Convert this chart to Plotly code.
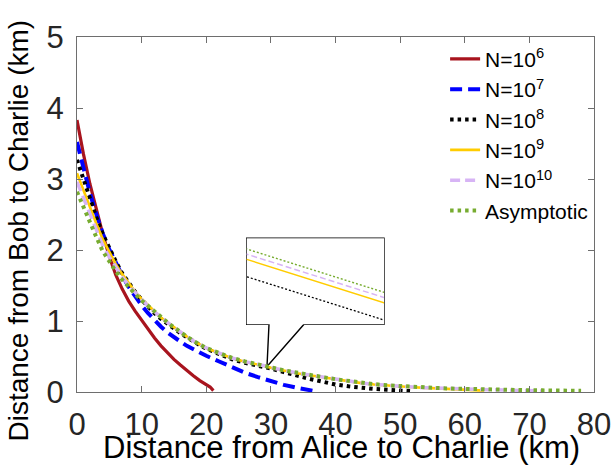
import plotly.graph_objects as go

# ---------------- data ----------------
x_n6 = [0, 1, 2, 3, 4, 5, 6, 7, 8, 9, 10, 11, 12, 13, 14, 15, 16, 17, 18, 19, 20, 20.6, 21.1]
y_n6 = [3.83, 3.35, 2.93, 2.57, 2.22, 1.91, 1.65, 1.45, 1.28, 1.14, 1.01, 0.88, 0.76, 0.65, 0.55, 0.46,
        0.38, 0.30, 0.23, 0.16, 0.10, 0.07, 0.02]

x_n7 = [0, 1, 2, 3, 4, 5, 6, 7, 8, 9, 10, 11, 12, 13, 14, 15, 16, 17, 18, 19, 20, 22, 24, 26, 28, 30,
        32, 34, 36, 37]
y_n7 = [3.52, 3.15, 2.80, 2.50, 2.23, 2.01, 1.82, 1.64, 1.48, 1.34, 1.22, 1.11, 1.01, 0.92, 0.84, 0.77,
        0.71, 0.65, 0.60, 0.55, 0.51, 0.43, 0.35, 0.27, 0.21, 0.15, 0.10, 0.06, 0.03, 0.01]

x_n8 = [0, 1, 2, 3, 4, 5, 6, 7, 8, 9, 10, 11, 12, 13, 14, 15, 16, 17, 18, 19, 20, 22, 24, 26, 28, 29,
        30, 32, 34, 36, 38, 40, 42, 44, 46, 48, 50, 52]
y_n8 = [3.27, 2.99, 2.71, 2.46, 2.22, 2.02, 1.84, 1.67, 1.53, 1.41, 1.30, 1.20, 1.11, 1.03, 0.96, 0.89,
        0.83, 0.77, 0.71, 0.66, 0.61, 0.53, 0.46, 0.41, 0.375, 0.356, 0.331, 0.28, 0.23, 0.185, 0.145,
        0.105, 0.08, 0.058, 0.043, 0.032, 0.022, 0.01]

x_n9 = [0, 1, 2, 3, 4, 5, 6, 7, 8, 9, 10, 11, 12, 13, 14, 15, 16, 17, 18, 19, 20, 22, 24, 26, 28, 29,
        30, 32, 34, 36, 38, 40, 42, 44, 46, 48, 50, 52, 54, 56, 58, 60, 62, 63]
y_n9 = [3.08, 2.84, 2.60, 2.37, 2.15, 1.97, 1.80, 1.66, 1.53, 1.41, 1.31, 1.22, 1.13, 1.05, 0.98, 0.91,
        0.84, 0.78, 0.72, 0.67, 0.62, 0.545, 0.475, 0.425, 0.39, 0.366, 0.341, 0.30, 0.265, 0.235,
        0.205, 0.175, 0.15, 0.125, 0.105, 0.09, 0.077, 0.067, 0.058, 0.05, 0.043, 0.036, 0.03, 0.02]

x_n10 = [0, 1, 2, 3, 4, 5, 6, 7, 8, 9, 10, 11, 12, 13, 14, 15, 16, 17, 18, 19, 20, 22, 24, 26, 28, 29,
         30, 32, 34, 36, 38, 40, 42, 44, 46, 48, 50, 52, 54, 56, 58, 60, 62, 64, 66, 68, 70, 72]
y_n10 = [2.96, 2.73, 2.50, 2.28, 2.06, 1.90, 1.75, 1.62, 1.50, 1.40, 1.30, 1.21, 1.13, 1.05, 0.98, 0.91,
         0.84, 0.78, 0.72, 0.67, 0.62, 0.548, 0.478, 0.428, 0.393, 0.369, 0.344, 0.303, 0.268, 0.238,
         0.208, 0.178, 0.153, 0.128, 0.108, 0.093, 0.08, 0.07, 0.061, 0.053, 0.046, 0.04, 0.035,
         0.031, 0.028, 0.025, 0.022, 0.015]

x_asym = [0, 1, 2, 3, 4, 5, 6, 7, 8, 9, 10, 11, 12, 13, 14, 15, 16, 17, 18, 19, 20, 22, 24, 26, 28, 29,
          30, 32, 34, 36, 38, 40, 42, 44, 46, 48, 50, 52, 54, 56, 58, 60, 62, 64, 66, 68, 70, 72, 74,
          76, 78]
y_asym = [2.82, 2.60, 2.39, 2.18, 1.98, 1.83, 1.70, 1.58, 1.47, 1.38, 1.29, 1.21, 1.13, 1.05, 0.98, 0.91,
          0.84, 0.78, 0.72, 0.67, 0.62, 0.55, 0.48, 0.43, 0.395, 0.372, 0.347, 0.305, 0.27, 0.24, 0.21,
          0.18, 0.155, 0.13, 0.11, 0.095, 0.082, 0.072, 0.063, 0.055, 0.048, 0.042, 0.037, 0.033,
          0.030, 0.027, 0.025, 0.023, 0.021, 0.019, 0.017]

x_ticks = [0, 10, 20, 30, 40, 50, 60, 70, 80]
y_ticks = [0, 1, 2, 3, 4, 5]

names = ["N=10<sup>6</sup>", "N=10<sup>7</sup>", "N=10<sup>8</sup>", "N=10<sup>9</sup>",
         "N=10<sup>10</sup>", "Asymptotic"]

FONT = "Liberation Sans, Arial, sans-serif"
TXT = "#262626"
AX = "#6e6e6e"

series = [
    (x_n6, y_n6, dict(color="#A8141E", width=3.2)),
    (x_n7, y_n7, dict(color="#0000FF", width=4, dash="12px,6px")),
    (x_n8, y_n8, dict(color="#000000", width=4, dash="3.5px,4px")),
    (x_n9, y_n9, dict(color="#FFCC00", width=2.6)),
    (x_n10, y_n10, dict(color="#D7B4F5", width=3.5, dash="10px,5px")),
    (x_asym, y_asym, dict(color="#77AC30", width=4, dash="3.5px,4px")),
]

fig = go.Figure()
for (xs, ys, ln), nm in zip(series, names):
    fig.add_trace(go.Scatter(x=xs, y=ys, mode="lines", name=nm, line=ln,
                             xaxis="x", yaxis="y"))

# inset (zoomed view) traces
inset_styles = {
    2: dict(color="#000000", width=1.3, dash="2px,2px"),
    3: dict(color="#FFCC00", width=1.5),
    4: dict(color="#D7B4F5", width=1.5, dash="6px,3px"),
    5: dict(color="#77AC30", width=1.4, dash="2px,2px"),
}
for idx, ln in inset_styles.items():
    xs, ys, _ = series[idx]
    fig.add_trace(go.Scatter(x=xs, y=ys, mode="lines", line=ln, showlegend=False,
                             xaxis="x2", yaxis="y2", hoverinfo="skip"))

# callout balloon (in main data coordinates)
fig.add_shape(type="path",
              path="M 29.71,0.954 L 26.26,0.954 L 26.26,2.165 L 47.5,2.165 L 47.5,0.954 "
                   "L 35.13,0.954 L 29.4,0.36 Z",
              xref="x", yref="y", line=dict(color="#000000", width=1.4),
              fillcolor="rgba(255,255,255,0)", layer="below")

# axis titles as annotations
fig.add_annotation(text="Distance from Bob to Charlie (km)", textangle=-90,
                   xref="paper", yref="paper", x=-0.114, y=0.455,
                   xanchor="center", yanchor="middle", showarrow=False,
                   font=dict(size=28, color="#000000", family=FONT))
fig.add_annotation(text="Distance from Alice to Charlie (km)",
                   xref="paper", yref="paper", x=0.512, y=-0.155,
                   xanchor="center", yanchor="middle", showarrow=False,
                   font=dict(size=31, color="#000000", family=FONT))

fig.update_layout(
    width=615, height=468,
    margin=dict(l=77, r=21, t=37, b=76, autoexpand=False),
    paper_bgcolor="white", plot_bgcolor="white",
    font=dict(family=FONT, color=TXT),
    xaxis=dict(range=[0, 80], tickvals=x_ticks, ticks="inside", ticklen=6, tickcolor=AX,
               showline=True, linecolor=AX, linewidth=1, mirror="ticks", showgrid=False,
               zeroline=False, tickfont=dict(size=31, color=TXT), ticklabelstandoff=5,
               automargin=False),
    yaxis=dict(range=[0, 5], tickvals=y_ticks, ticks="inside", ticklen=6, tickcolor=AX,
               showline=True, linecolor=AX, linewidth=1, mirror="ticks", showgrid=False,
               zeroline=False, tickfont=dict(size=31, color=TXT), ticklabelstandoff=6,
               automargin=False),
    xaxis2=dict(domain=[0.3282, 0.5938], anchor="y2", range=[29, 30], visible=False),
    yaxis2=dict(domain=[0.1907, 0.4330], anchor="x2", range=[0.32853, 0.37818], visible=False),
    legend=dict(x=0.712, y=0.995, xanchor="left", yanchor="top", bgcolor="rgba(0,0,0,0)",
                font=dict(size=21, color="#000000"), tracegroupgap=0),
    showlegend=True,
)

fig.write_html("out.html")
